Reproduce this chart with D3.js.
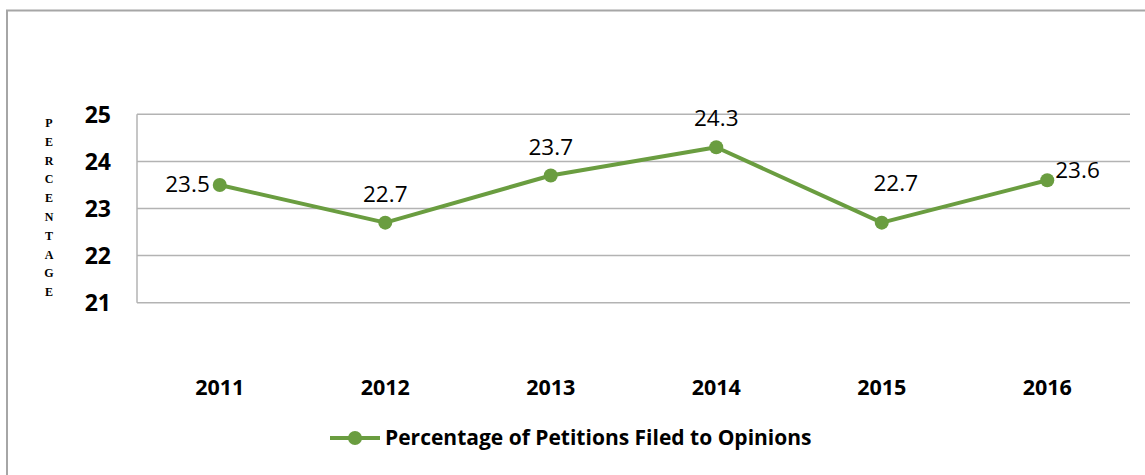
<!DOCTYPE html>
<html>
<head>
<meta charset="utf-8">
<script src="https://cdn.jsdelivr.net/npm/d3@7"></script>
<style>
  html, body { margin: 0; padding: 0; background: #fff; }
  svg { display: block; }
</style>
</head>
<body>
<svg id="chart" width="1145" height="475"></svg>
<script>
// ---- data ----
const years = ["2011", "2012", "2013", "2014", "2015", "2016"];
const values = [23.5, 22.7, 23.7, 24.3, 22.7, 23.6];
const yTicks = [21, 22, 23, 24, 25];
const seriesName = "Percentage of Petitions Filed to Opinions";
const yTitle = "PERCENTAGE";
const labelPlacement = ["left", "above", "above", "above", "aboveRight", "right"];

// ---- layout ----
const W = 1145, H = 475;
const plot = { left: 137, right: 1130, top: 114.3, bottom: 302.7 };
const green = "#6a9d40";
const gridColor = "#b3b3b3";

const svg = d3.select("#chart");

// outer border (only top & left visible within the frame)
svg.append("rect")
  .attr("x", 7).attr("y", 10.5)
  .attr("width", W + 20).attr("height", H + 20)
  .attr("fill", "#fff")
  .attr("stroke", "#a6a6a6").attr("stroke-width", 2);

const x = d3.scaleBand().domain(years).range([plot.left, plot.right]);
const y = d3.scaleLinear().domain([21, 25]).range([plot.bottom, plot.top]);
const cx = d => x(d) + x.bandwidth() / 2;

// gridlines
svg.append("g").selectAll("line").data(yTicks).join("line")
  .attr("x1", plot.left).attr("x2", plot.right)
  .attr("y1", d => y(d)).attr("y2", d => y(d))
  .attr("stroke", gridColor).attr("stroke-width", 1.5);

// left axis line
svg.append("line")
  .attr("x1", plot.left).attr("x2", plot.left)
  .attr("y1", y(25)).attr("y2", y(21))
  .attr("stroke", gridColor).attr("stroke-width", 1.5);

// y tick labels
const yAxis = d3.axisLeft(y).tickValues(yTicks).tickSize(0).tickPadding(0).tickFormat(d3.format("d"));
const yg = svg.append("g").attr("transform", `translate(111,0)`).call(yAxis);
yg.select(".domain").remove();
yg.selectAll("text")
  .attr("font-family", "'Open Sans', sans-serif")
  .attr("font-weight", "bold")
  .attr("font-size", 23)
  .attr("fill", "#000")
  .attr("dy", "0.36em");

// y title - stacked letters
svg.append("g").selectAll("text").data(yTitle.split("")).join("text")
  .attr("x", 49)
  .attr("y", (d, i) => 127 + i * 18.8)
  .attr("text-anchor", "middle")
  .attr("font-family", "'Liberation Serif', 'DejaVu Serif', serif")
  .attr("font-weight", "bold")
  .attr("font-size", 12)
  .attr("fill", "#000")
  .text(d => d);

// x labels
const xAxis = d3.axisBottom(x).tickSize(0).tickPadding(0);
const xg = svg.append("g").attr("transform", `translate(0,395)`).call(xAxis);
xg.select(".domain").remove();
xg.selectAll("text")
  .attr("font-family", "'Open Sans', sans-serif")
  .attr("font-weight", "bold")
  .attr("font-size", 21.5)
  .attr("fill", "#000")
  .attr("dy", 0)
  .attr("y", 0);

// line
const line = d3.line().x((d, i) => cx(years[i])).y(d => y(d));
svg.append("path")
  .datum(values)
  .attr("d", line)
  .attr("fill", "none")
  .attr("stroke", green)
  .attr("stroke-width", 4)
  .attr("stroke-linejoin", "round");

// markers
svg.append("g").selectAll("circle").data(values).join("circle")
  .attr("cx", (d, i) => cx(years[i]))
  .attr("cy", d => y(d))
  .attr("r", 7)
  .attr("fill", green);

// data labels
const place = {
  left:       { dx: -10, dy: 7,   anchor: "end" },
  above:      { dx: 0,   dy: -21, anchor: "middle" },
  aboveRight: { dx: 14,  dy: -32, anchor: "middle" },
  right:      { dx: 8,   dy: -2,  anchor: "start" }
};
svg.append("g").selectAll("text").data(values).join("text")
  .attr("x", (d, i) => cx(years[i]) + place[labelPlacement[i]].dx)
  .attr("y", (d, i) => y(d) + place[labelPlacement[i]].dy)
  .attr("text-anchor", (d, i) => place[labelPlacement[i]].anchor)
  .attr("font-family", "'Open Sans', sans-serif")
  .attr("font-size", 22.5)
  .attr("fill", "#000")
  .text(d => d3.format(".1f")(d));

// legend
const lg = svg.append("g");
lg.append("line")
  .attr("x1", 330).attr("x2", 380).attr("y1", 438).attr("y2", 438)
  .attr("stroke", green).attr("stroke-width", 4);
lg.append("circle").attr("cx", 355).attr("cy", 438).attr("r", 7).attr("fill", green);
lg.append("text")
  .attr("x", 385).attr("y", 445)
  .attr("font-family", "'Open Sans', sans-serif")
  .attr("font-weight", "bold")
  .attr("font-size", 21)
  .attr("fill", "#000")
  .text(seriesName);
</script>
</body>
</html>
